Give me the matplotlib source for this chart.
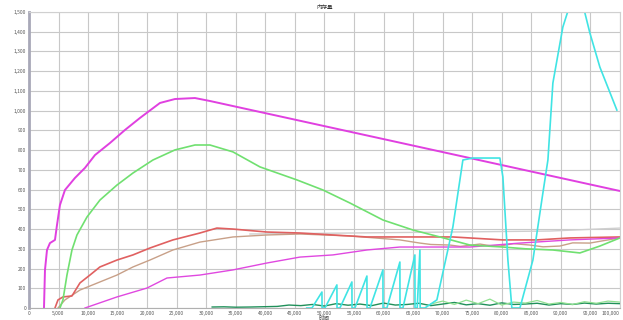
import matplotlib
matplotlib.use("Agg")
import matplotlib.pyplot as plt
from matplotlib.ticker import FuncFormatter, MultipleLocator

plt.rcParams['font.family'] = ['Noto Sans CJK SC', 'DejaVu Sans']

title_text = "内存量"
x_label = "时间"
x_max = 100000

# main magenta series
mag_x = [2540, 2710, 3050, 3550, 4400, 4740, 5245, 6090, 7780, 9475, 11170, 13700,
         16240, 18780, 22165, 24700, 28090, 30630, 100000]
mag_y = [0, 193, 294, 329, 345, 420, 522, 598, 659, 710, 775, 836,
         902, 963, 1039, 1059, 1064, 1049, 593]

# light green series
grn_x = [5245, 5750, 6430, 7275, 8120, 9815, 12010, 14890, 17600, 20980, 24700, 28090,
         30630, 34520, 39090, 45350, 49750, 54320, 59900, 65000, 69540, 74620, 80200,
         84000, 88660, 93230, 96620, 100000]
grn_y = [0, 41, 167, 294, 370, 461, 547, 623, 684, 750, 801, 826,
         826, 791, 715, 649, 598, 532, 446, 395, 360, 319, 309,
         300, 294, 279, 314, 355]

# red series
red_x = [4400, 4910, 5750, 7275, 8630, 10320, 12010, 14890, 17600, 20470, 24360, 28930,
         31800, 34520, 40270, 45850, 51440, 57190, 64970, 71740, 80200, 85960, 91540, 100000]
red_y = [0, 41, 56, 61, 127, 167, 208, 243, 269, 304, 345, 380,
         405, 400, 385, 380, 370, 360, 360, 360, 345, 345, 355, 360]

# tan series
tan_x = [4910, 6090, 8630, 12010, 14890, 17600, 20470, 24360, 28930, 34520, 40270, 45850,
         54320, 62770, 66160, 68000, 71240, 73000, 76310, 78000, 79690, 82000, 84770,
         87000, 89850, 92000, 94920, 97000, 100000]
tan_y = [0, 41, 91, 132, 167, 208, 243, 294, 334, 360, 370, 375,
         365, 345, 329, 322, 319, 312, 324, 316, 314, 326, 319,
         310, 314, 330, 329, 340, 355]

# second pink series
pnk_x = [9475, 14890, 19960, 23350, 28930, 34520, 40270, 45850, 51440, 57190, 62770,
         74620, 83080, 91540, 100000]
pnk_y = [0, 56, 101, 152, 167, 193, 228, 258, 269, 294, 309,
         309, 329, 345, 355]

# light gray series
gry_x = [37400, 54300, 71240, 88150, 100000]
gry_y = [375, 380, 385, 390, 405]

# cyan series
cyn_x = [47000, 47890, 49580, 49600, 50080, 52110, 52130, 52620, 54650, 54670, 55160,
         57190, 57210, 57700, 59900, 59920, 60570, 62770, 62790, 63280, 65310, 65330,
         65700, 66160, 66200, 67000, 69030, 71740, 73430, 75120, 79690, 80200, 81050,
         81720, 83080, 85280, 86970, 87820, 88660, 90350, 91540, 93740, 94920, 96610, 99490]
cyn_y = [0, 0, 81, 0, 0, 117, 0, 0, 132, 0, 0,
         162, 0, 0, 193, 0, 0, 233, 0, 0, 269, 0,
         0, 294, 0, 0, 41, 411, 750, 760, 760, 664, 243,
         0, 0, 243, 583, 750, 1140, 1424, 1536, 1536, 1394, 1221, 1003]

# dark green noise near the bottom
dkg_x = [31000, 33000, 35000, 37500, 42000, 44000, 46000, 48000, 50000, 52000, 54000,
         56000, 58000, 60000, 62000, 64000, 66000, 68000, 70000, 72000, 74000, 76000,
         78000, 80000, 82000, 84000, 86000, 88000, 90000, 92000, 94000, 96000, 98000, 100000]
dkg_y = [5, 6, 4, 5, 8, 15, 12, 18, 10, 22, 14, 20, 12, 25, 15, 18, 24, 12, 20, 28,
         16, 22, 14, 26, 18, 20, 24, 15, 22, 18, 25, 20, 24, 22]

# light green noise near the bottom
lgn_x = [68000, 70000, 72000, 74000, 76000, 78000, 80000, 82000, 84000, 86000, 88000,
         90000, 92000, 94000, 96000, 98000, 100000]
lgn_y = [20, 35, 18, 40, 22, 45, 15, 30, 25, 38, 20, 28, 18, 32, 24, 35, 30]

fig = plt.figure(figsize=(6.23, 3.2), dpi=100)
ax = fig.add_axes([0.0465, 0.0375, 0.9485, 0.925])

ax.plot(gry_x, gry_y, color='#cfcfcf', lw=1.0)
ax.plot(tan_x, tan_y, color='#c8a088', lw=1.0)
ax.plot(red_x, red_y, color='#e06060', lw=1.2)
ax.plot(pnk_x, pnk_y, color='#e048e0', lw=1.0)
ax.plot(grn_x, grn_y, color='#70e070', lw=1.2)
ax.plot(mag_x, mag_y, color='#e040e0', lw=1.4)
ax.plot(dkg_x, dkg_y, color='#20905a', lw=1.0)
ax.plot(lgn_x, lgn_y, color='#90e090', lw=0.9)
ax.plot(cyn_x, cyn_y, color='#40e4e4', lw=1.2)

ax.set_xlim(0, x_max)
ax.set_ylim(0, 1500)
ax.xaxis.set_major_locator(MultipleLocator(5000))
ax.yaxis.set_major_locator(MultipleLocator(100))
# last x label is drawn separately, right-aligned, so it stays inside the figure
ax.xaxis.set_major_formatter(FuncFormatter(lambda v, p: "" if v >= x_max else f"{int(v):,}"))
ax.yaxis.set_major_formatter(FuncFormatter(lambda v, p: f"{int(v):,}"))
ax.tick_params(labelsize=3.5, colors='#555555', length=0, pad=2)
ax.grid(True, color='#c8c8c8', lw=0.8)
ax.set_axisbelow(True)
ax.annotate(f"{x_max:,}", xy=(1.0, 0), xycoords='axes fraction', xytext=(0, -2),
            textcoords='offset points', ha='right', va='top', fontsize=3.5, color='#555555')

for s in ['top', 'right']:
    ax.spines[s].set_color('#d0d0d0')
ax.spines['bottom'].set_color('#b0b0b0')
ax.spines['left'].set_color('#a8a8b8')
ax.spines['left'].set_linewidth(2.0)

ax.set_title(title_text, fontsize=4, pad=2, color='#333333')
ax.set_xlabel(x_label, fontsize=4, labelpad=0, color='#444444')

fig.savefig("out.png", dpi=100)
